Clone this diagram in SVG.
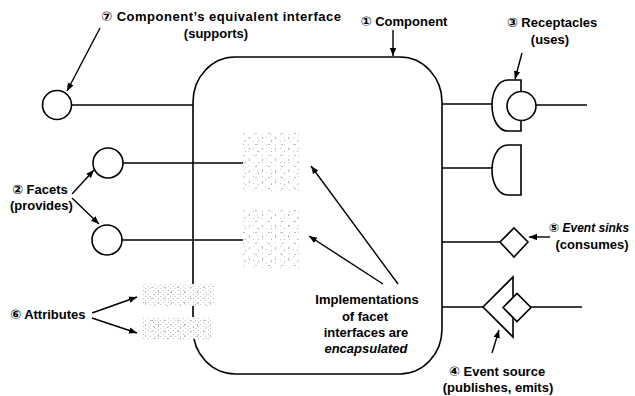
<svg xmlns="http://www.w3.org/2000/svg" width="635" height="396" viewBox="0 0 635 396">
<style>
.ln{stroke:#000;stroke-width:1.6;fill:none}
.sh{stroke:#000;stroke-width:1.6;fill:#fff}
.ar{stroke:#000;stroke-width:1.4;fill:none;marker-end:url(#ah)}
text{font-family:"Liberation Sans",Arial,"DejaVu Sans",sans-serif;font-weight:bold;font-size:13px;fill:#000}
.it{font-style:italic}
.m{text-anchor:middle}
</style>
<defs>
<marker id="ah" markerUnits="userSpaceOnUse" markerWidth="9" markerHeight="8" refX="8" refY="4" orient="auto">
<path d="M0,0.8 L8,4 L0,7.2 Z" fill="#000"/>
</marker>
<pattern id="st1" width="9" height="7" patternUnits="userSpaceOnUse">
<rect x="1" y="1" width="1" height="1" fill="#c4c4c4"/>
<rect x="5" y="4" width="1" height="1" fill="#d0d0d0"/>
</pattern>
<pattern id="st2" width="13" height="11" patternUnits="userSpaceOnUse">
<rect x="2" y="5" width="1" height="2" fill="#b4b4b4"/>
<rect x="8" y="1" width="2" height="1" fill="#bcbcbc"/>
<rect x="11" y="8" width="1" height="1" fill="#acacac"/>
</pattern>
<pattern id="st3" width="5" height="4" patternUnits="userSpaceOnUse">
<rect x="0" y="0" width="1" height="1" fill="#c8c8c8"/>
<rect x="3" y="2" width="1" height="1" fill="#bcbcbc"/>
</pattern>
</defs>

<g id="connectors">
<line class="ln" x1="72" y1="105" x2="193" y2="105"/>
<line class="ln" x1="123" y1="163" x2="243" y2="163"/>
<line class="ln" x1="122" y1="240" x2="243" y2="240"/>
<line class="ln" x1="442" y1="104" x2="492" y2="104"/>
<line class="ln" x1="536" y1="105" x2="587" y2="105"/>
<line class="ln" x1="442" y1="168" x2="492" y2="168"/>
<line class="ln" x1="442" y1="242" x2="500" y2="242"/>
<line class="ln" x1="442" y1="307" x2="483" y2="307"/>
<line class="ln" x1="531" y1="307" x2="582" y2="307"/>
<line class="ar" x1="100" y1="28" x2="67" y2="91"/>
<line class="ar" x1="393" y1="30" x2="393" y2="56"/>
<line class="ar" x1="522" y1="53" x2="515" y2="79"/>
<line class="ar" x1="72" y1="194" x2="94" y2="170"/>
<line class="ar" x1="72" y1="198" x2="99" y2="224"/>
<line class="ar" x1="92" y1="313" x2="137" y2="297"/>
<line class="ar" x1="92" y1="318" x2="137" y2="333"/>
<line class="ar" x1="398" y1="284" x2="311" y2="166"/>
<line class="ar" x1="383" y1="284" x2="309" y2="236"/>
<line class="ar" x1="550" y1="237" x2="529" y2="237"/>
<line class="ar" x1="492" y1="353" x2="499" y2="330"/>
</g>

<g id="component">
<rect class="ln" x="193" y="57" width="249" height="317" rx="42" ry="45"/>
</g>

<g id="impl-blobs">
<rect x="243" y="133" width="57" height="59" fill="#fff"/>
<rect x="243" y="133" width="57" height="59" fill="url(#st1)"/>
<rect x="243" y="133" width="57" height="59" fill="url(#st2)"/>
<rect x="243" y="208" width="57" height="60" fill="#fff"/>
<rect x="243" y="208" width="57" height="60" fill="url(#st1)"/>
<rect x="243" y="208" width="57" height="60" fill="url(#st2)"/>
</g>

<g id="attribute-blobs">
<rect x="142" y="284" width="72" height="22" fill="#fff"/>
<rect x="142" y="284" width="72" height="22" fill="url(#st3)"/>
<rect x="142" y="284" width="72" height="22" fill="url(#st2)"/>
<rect x="143" y="317" width="68" height="22" fill="#fff"/>
<rect x="143" y="317" width="68" height="22" fill="url(#st3)"/>
<rect x="143" y="317" width="68" height="22" fill="url(#st2)"/>
</g>

<g id="equivalent-interface">
<circle class="sh" cx="57" cy="105" r="14.5"/>
</g>

<g id="facet-1">
<circle class="sh" cx="108" cy="163" r="15"/>
</g>

<g id="facet-2">
<circle class="sh" cx="107" cy="240" r="15"/>
</g>

<g id="receptacle-1">
<path class="ln" d="M521,92 V80 H508 C498,80 492,92 492,105 C492,119 498,131 508,131 H521 V120"/>
<circle class="ln" cx="521.5" cy="106" r="14.5"/>
</g>

<g id="receptacle-2">
<path class="ln" d="M521,145 H508 C498,145 492,157 492,170 C492,183 498,195 508,195 H521 Z"/>
</g>

<g id="event-sink">
<path class="ln" d="M500,242 L514,228 L528,242 L514,257 Z"/>
</g>

<g id="event-source">
<path class="ln" d="M513,297 V277 L483,307 L513,337 V318"/>
<path class="ln" d="M503,307.5 L517,293.5 L531,307.5 L517,321.5 Z"/>
</g>

<g id="labels">
<text x="101" y="21" textLength="240" lengthAdjust="spacing">⑦ Component’s equivalent interface</text>
<text class="m" x="216" y="38">(supports)</text>
<text class="m" x="404" y="26">① Component</text>
<text class="m" x="552" y="27">③ Receptacles</text>
<text class="m" x="550" y="44">(uses)</text>
<text x="12" y="194">② Facets</text>
<text x="10" y="210">(provides)</text>
<text x="10" y="319">⑥ Attributes</text>
<text class="m" x="367" y="304">Implementations</text>
<text class="m" x="365" y="321">of facet</text>
<text class="m" x="366" y="337">interfaces are</text>
<text class="m it" x="366" y="353">encapsulated</text>
<text class="it" x="549" y="232" style="font-size:12px">⑤ Event sinks</text>
<text class="m" x="592" y="249">(consumes)</text>
<text class="m" x="497" y="376">④ Event source</text>
<text class="m" x="498" y="392">(publishes, emits)</text>
</g>
</svg>
